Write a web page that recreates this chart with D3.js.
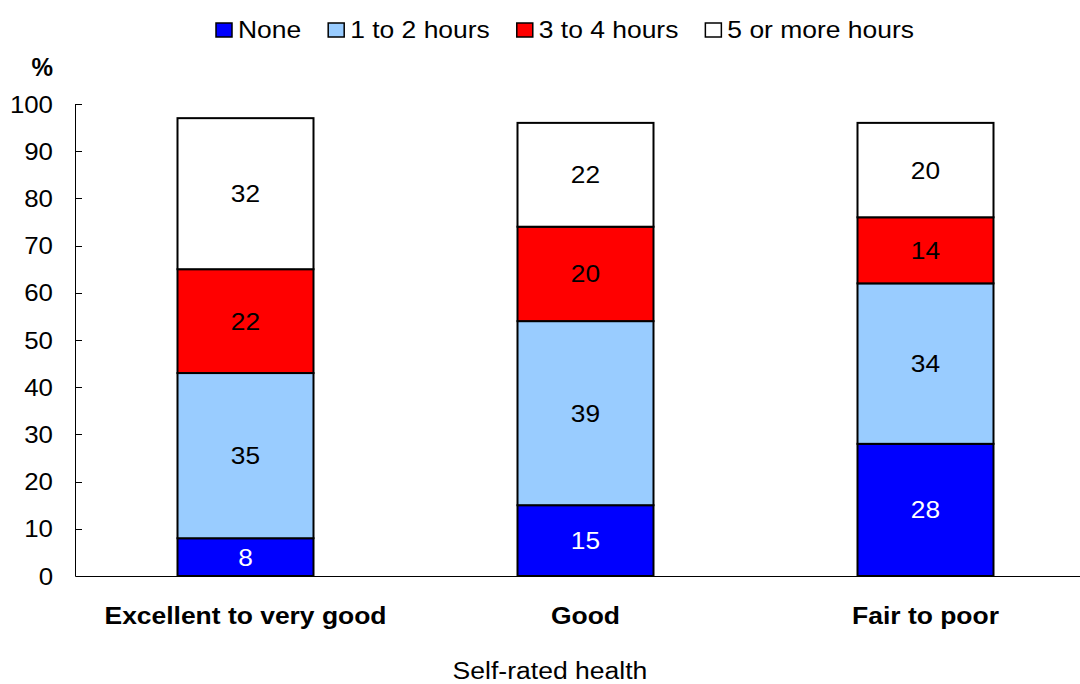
<!DOCTYPE html>
<html>
<head>
<meta charset="utf-8">
<script src="https://cdn.jsdelivr.net/npm/d3@7"></script>
<style>
  html, body { margin: 0; padding: 0; background: #fff; }
  svg { display: block; font-family: "Liberation Sans", Arial, sans-serif; }
</style>
</head>
<body>
<svg id="chart" width="1080" height="684"></svg>
<script>
// Daily hours of activity by self-rated health (%)
const categories = ["Excellent to very good", "Good", "Fair to poor"];
const seriesNames = ["None", "1 to 2 hours", "3 to 4 hours", "5 or more hours"];
const noneValues = [8, 15, 28];
const oneToTwoValues = [35, 39, 34];
const threeToFourValues = [22, 20, 14];
const fiveOrMoreValues = [32, 22, 20];
const yTicks = [0, 10, 20, 30, 40, 50, 60, 70, 80, 90, 100];
const xTitle = "Self-rated health";
const yUnit = "%";

const seriesColors = ["#0000ff", "#99ccff", "#ff0000", "#ffffff"];
const labelColors = ["#ffffff", "#000000", "#000000", "#000000"];
const SX = 1.15; // horizontal text stretch used throughout the layout

const rows = categories.map((c, i) => ({
  category: c,
  "None": noneValues[i],
  "1 to 2 hours": oneToTwoValues[i],
  "3 to 4 hours": threeToFourValues[i],
  "5 or more hours": fiveOrMoreValues[i]
}));
const stacked = d3.stack().keys(seriesNames)(rows);

const svg = d3.select("#chart");

const x = d3.scaleBand()
  .domain(categories)
  .range([75.5, 1095.5])
  .paddingInner(0.6)
  .paddingOuter(0.3);

const y = d3.scaleLinear().domain([0, 100]).range([576, 104]);

function place(sel, px, py, sx = SX) {
  return sel.attr("transform", `translate(${px},${py}) scale(${sx},1)`);
}

// Y axis: line, inward ticks, labels on the left
const yAxis = svg.append("g");
yAxis.append("line")
  .attr("x1", 75.5).attr("x2", 75.5)
  .attr("y1", y(100)).attr("y2", y(0))
  .attr("stroke", "#000").attr("stroke-width", 1);
yAxis.selectAll("line.tick").data(yTicks).join("line")
  .attr("class", "tick")
  .attr("x1", 75.5).attr("x2", 82)
  .attr("y1", d => Math.round(y(d)) + 0.5).attr("y2", d => Math.round(y(d)) + 0.5)
  .attr("stroke", "#000").attr("stroke-width", 1);
yAxis.selectAll("text").data(yTicks).join("text")
  .each(function (d) { place(d3.select(this), 53, y(d) + 8.5, 1.1); })
  .attr("text-anchor", "end")
  .attr("font-size", 23.5)
  .attr("fill", "#000")
  .text(d => d);

place(svg.append("text"), 53, 76, 0.97)
  .attr("text-anchor", "end")
  .attr("font-size", 25)
  .attr("font-weight", "bold")
  .text(yUnit);

// X axis baseline
svg.append("line")
  .attr("x1", 75.5).attr("x2", 1080)
  .attr("y1", y(0) + 0.5).attr("y2", y(0) + 0.5)
  .attr("stroke", "#000").attr("stroke-width", 1);

// Stacked bars
const layers = svg.selectAll("g.layer").data(stacked).join("g")
  .attr("class", "layer")
  .attr("fill", (d, i) => seriesColors[i]);

layers.selectAll("rect").data(d => d).join("rect")
  .attr("x", d => x(d.data.category))
  .attr("width", x.bandwidth())
  .attr("y", d => y(d[1]))
  .attr("height", d => y(d[0]) - y(d[1]))
  .attr("stroke", "#000")
  .attr("stroke-width", 2);

// Segment value labels
stacked.forEach((layer, li) => {
  svg.append("g").selectAll("text").data(layer).join("text")
    .each(function (d) {
      place(d3.select(this), x(d.data.category) + x.bandwidth() / 2, y((d[0] + d[1]) / 2) + 8.5, 1.12);
    })
    .attr("text-anchor", "middle")
    .attr("font-size", 23.5)
    .attr("fill", labelColors[li])
    .text(d => d[1] - d[0]);
});

// Category labels
svg.append("g").selectAll("text").data(categories).join("text")
  .each(function (d) { place(d3.select(this), x(d) + x.bandwidth() / 2, 624); })
  .attr("text-anchor", "middle")
  .attr("font-size", 23)
  .attr("font-weight", "bold")
  .text(d => d);

// Axis title
place(svg.append("text"), 550, 679, 1.13)
  .attr("text-anchor", "middle")
  .attr("font-size", 23.5)
  .text(xTitle);

// Legend, laid out left to right
const legend = svg.append("g");
let cursor = 216;
seriesNames.forEach((name, i) => {
  legend.append("rect")
    .attr("x", cursor).attr("y", 23)
    .attr("width", 16).attr("height", 14)
    .attr("fill", seriesColors[i])
    .attr("stroke", "#000").attr("stroke-width", 1.5);
  const t = place(legend.append("text"), cursor + 22, 37.5)
    .attr("font-size", 23)
    .text(name);
  const w = t.node().getComputedTextLength() * SX;
  cursor = cursor + 22 + w + 27;
});
</script>
</body>
</html>
